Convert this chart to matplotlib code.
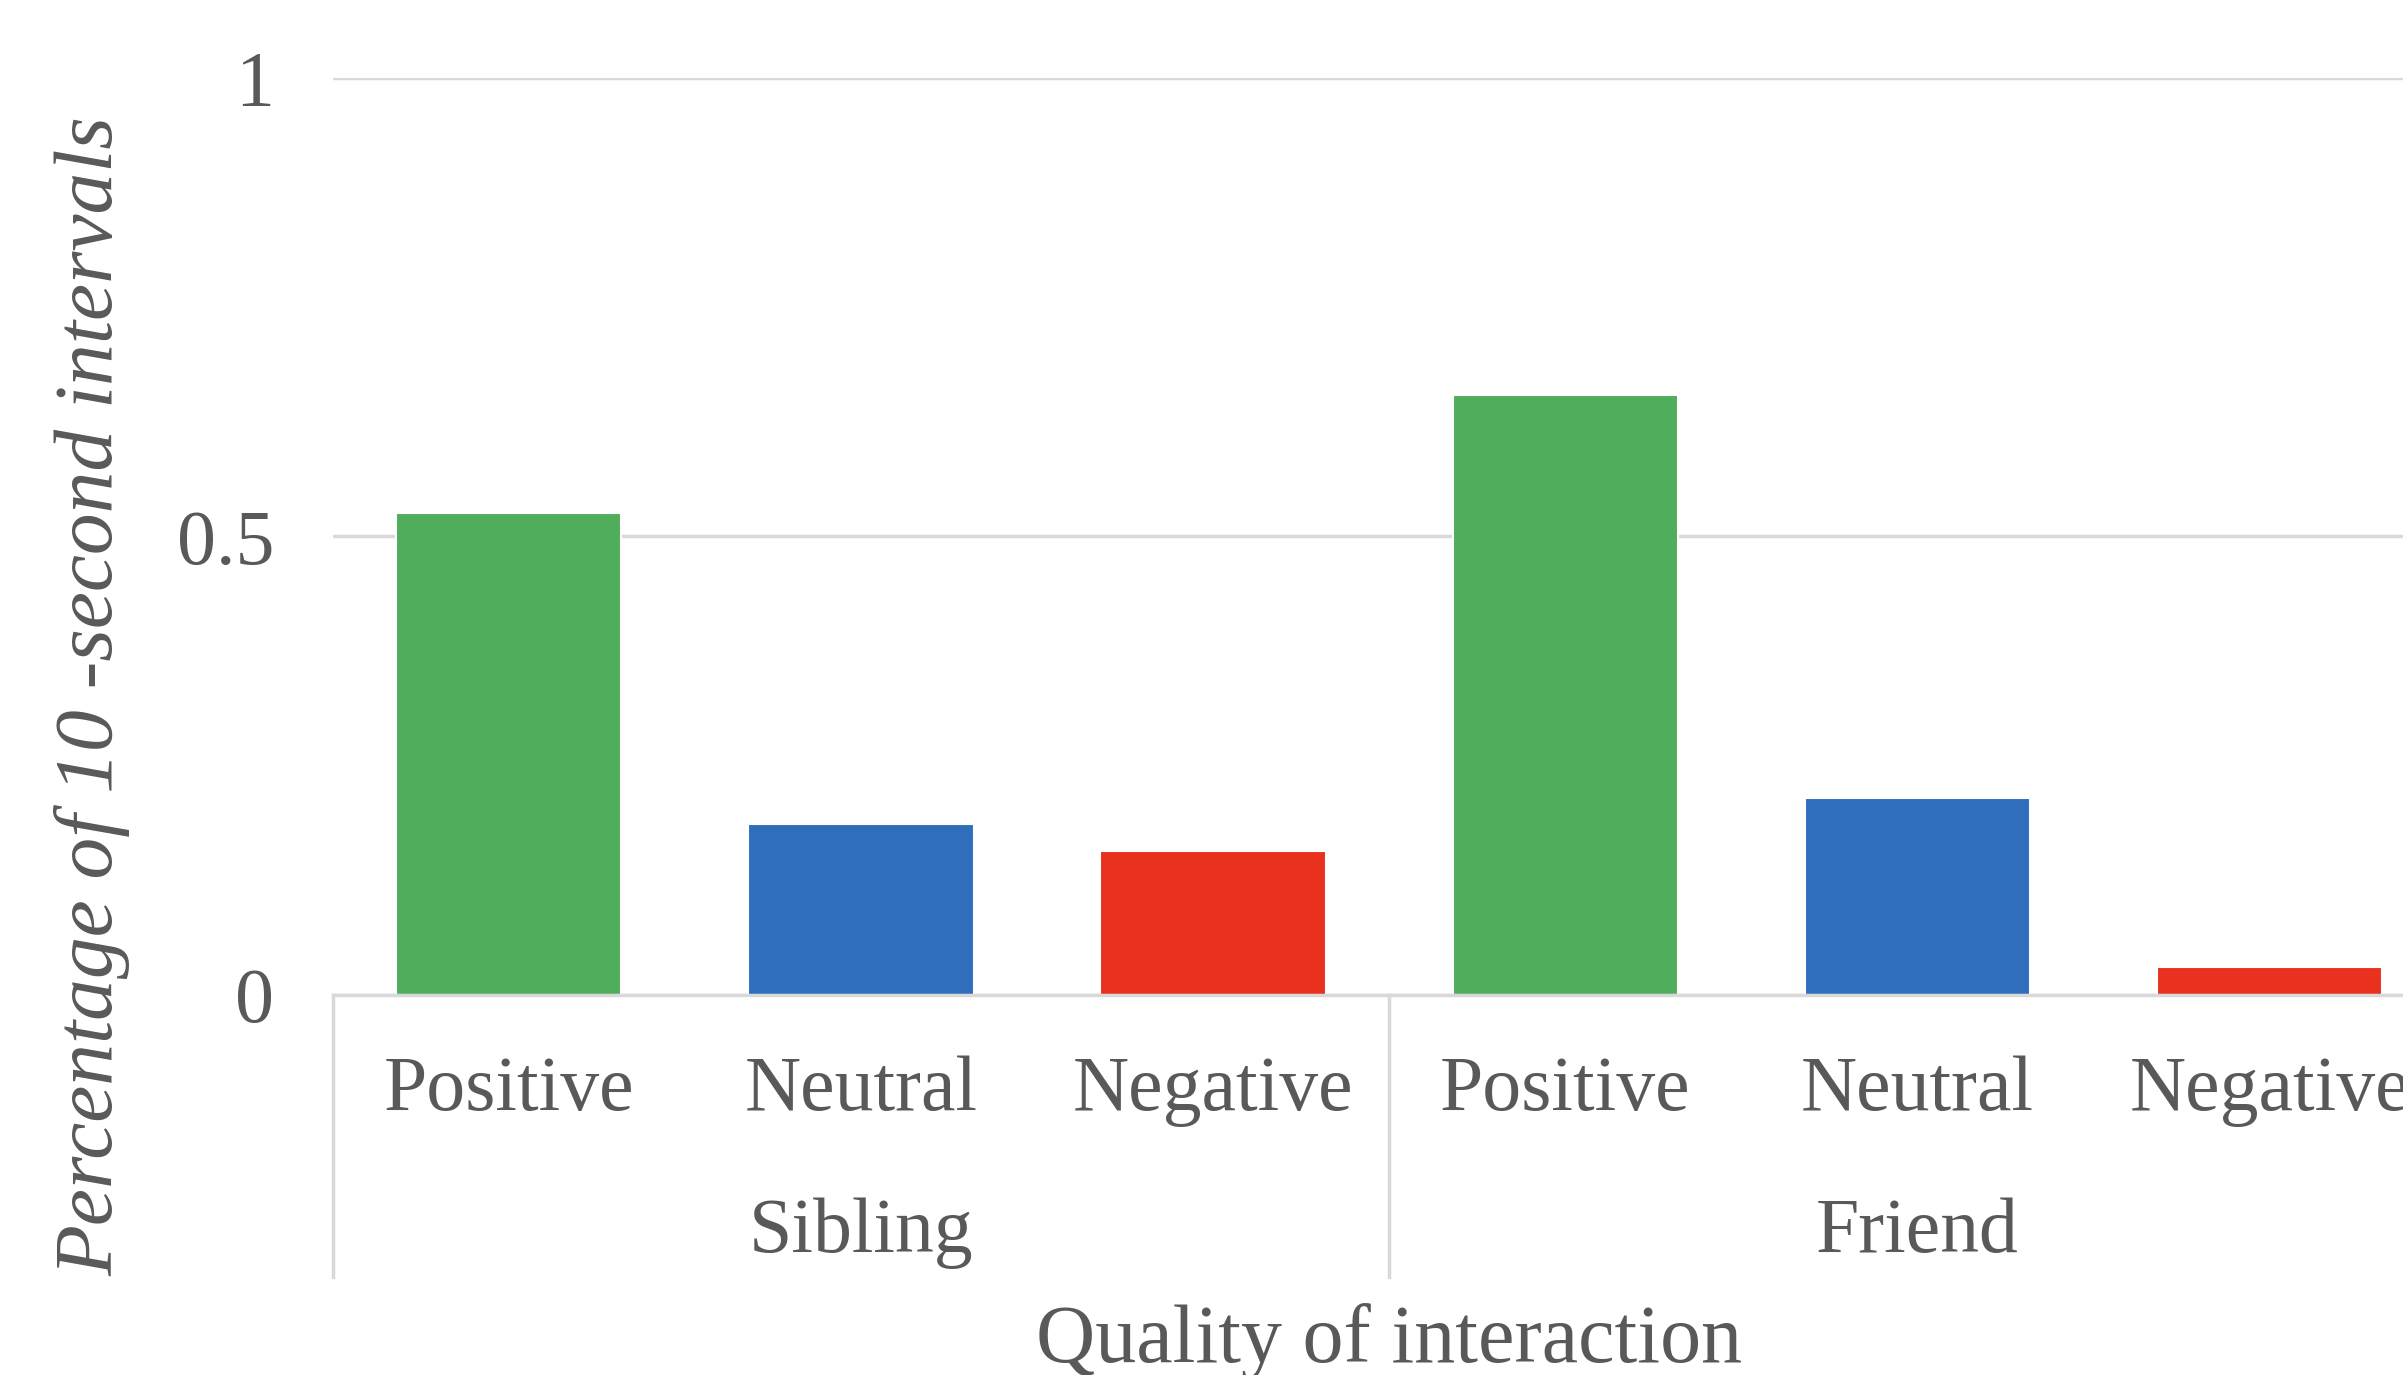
import numpy as np
import matplotlib.pyplot as plt
from matplotlib.transforms import blended_transform_factory

# data
groups = ['Sibling', 'Friend']
qualities = ['Positive', 'Neutral', 'Negative']
sibling_vals = [0.525, 0.186, 0.157]
friend_vals = [0.654, 0.214, 0.030]
bar_colors = ['#4FAD5B', '#2F6EBA', '#E8321F']

FONT = 'Liberation Serif'
TEXT_COLOR = '#595959'
GRID_COLOR = '#D9D9D9'

plt.rcParams['font.family'] = FONT

fig = plt.figure(figsize=(24.03, 13.75), dpi=100)
# axes runs past the right edge (the reference is cropped there)
ax = fig.add_axes([0.1384, 0.2767, 0.8794, 0.6664])

values = sibling_vals + friend_vals
labels = qualities * len(groups)
colors = bar_colors * len(groups)
x = np.arange(len(values))

ax.bar(x, values, width=0.64, color=colors, edgecolor='white', linewidth=1.5, zorder=3)

ax.set_xlim(-0.5, len(values) - 0.5)
ax.set_ylim(0, 1)
ax.set_yticks([0, 0.5, 1])
ax.set_yticklabels(['0', '0.5', '1'])
ax.tick_params(axis='y', length=0, pad=42, labelsize=56, labelcolor=TEXT_COLOR)
ax.set_xticks([])

for s in ['top', 'right', 'left']:
    ax.spines[s].set_visible(False)
ax.spines['bottom'].set_color(GRID_COLOR)
ax.spines['bottom'].set_linewidth(2.5)
ax.spines['bottom'].set_zorder(4)

ax.yaxis.grid(True, color=GRID_COLOR, linewidth=2.5, zorder=0)
ax.set_axisbelow(True)

trans = blended_transform_factory(ax.transData, ax.transAxes)

# category labels
for xi, lab in zip(x, labels):
    ax.text(xi, -0.126, lab, transform=trans, ha='center', va='baseline',
            fontsize=56, color=TEXT_COLOR)

# group labels and separators
n = len(qualities)
for gi, g in enumerate(groups):
    center = gi * n + (n - 1) / 2
    ax.text(center, -0.281, g, transform=trans, ha='center', va='baseline',
            fontsize=56, color=TEXT_COLOR)
for b in range(len(groups) + 1):
    ax.plot([b * n - 0.5, b * n - 0.5], [0, -0.308], transform=trans,
            color=GRID_COLOR, linewidth=2.5, clip_on=False)

ax.text(0.5, -0.401, 'Quality of interaction', transform=ax.transAxes,
        ha='center', va='baseline', fontsize=59, color=TEXT_COLOR)

fig.text(92 / 2403, 0.4938, 'Percentage of 10 -second intervals', rotation=90,
         ha='center', va='center', fontsize=60, style='italic', color=TEXT_COLOR)

fig.savefig('out.png', dpi=100, facecolor='white')
